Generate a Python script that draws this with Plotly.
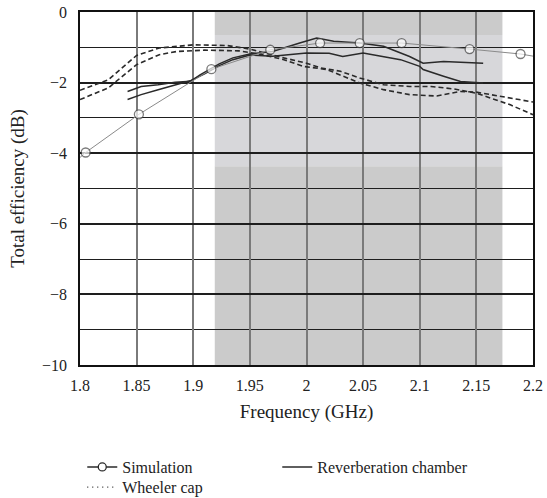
import plotly.graph_objects as go

# Simulation (open circles)
sim_f = [1.8, 1.805, 1.852, 1.916, 1.968, 2.012, 2.047, 2.084, 2.144, 2.189, 2.2]
sim_db = [-4.12, -3.98, -2.90, -1.62, -1.07, -0.88, -0.88, -0.88, -1.05, -1.19, -1.25]
sim_marker = [0, 1, 1, 1, 1, 1, 1, 1, 1, 1, 0]

# Reverberation chamber (two measured curves)
rc1_f = [1.842, 1.854, 1.869, 1.884, 1.898, 1.906, 1.923, 1.935, 1.95, 1.97, 1.994, 2.009,
         2.024, 2.047, 2.068, 2.083, 2.091, 2.103, 2.121, 2.156]
rc1_db = [-2.25, -2.11, -2.06, -1.99, -1.96, -1.78, -1.47, -1.30, -1.19, -1.12, -0.88, -0.74,
          -0.83, -0.88, -0.97, -1.16, -1.26, -1.45, -1.40, -1.45]
rc2_f = [1.842, 1.854, 1.869, 1.884, 1.898, 1.91, 1.923, 1.935, 1.95, 1.97, 1.99, 2.0,
         2.02, 2.032, 2.05, 2.068, 2.083, 2.1, 2.103, 2.121, 2.136, 2.156]
rc2_db = [-2.48, -2.34, -2.20, -2.06, -1.94, -1.75, -1.52, -1.35, -1.22, -1.25, -1.18, -1.16,
          -1.17, -1.26, -1.16, -1.26, -1.35, -1.54, -1.63, -1.82, -1.97, -2.01]

# Wheeler cap (two measured curves)
wc1_f = [1.8, 1.825, 1.85, 1.87, 1.9, 1.93, 1.95, 1.97, 1.98, 2.0, 2.012, 2.03, 2.047,
         2.068, 2.091, 2.11, 2.13, 2.15, 2.18, 2.2]
wc1_db = [-2.22, -1.92, -1.23, -1.02, -0.93, -0.95, -1.05, -1.22, -1.30, -1.45, -1.58, -1.68,
          -1.87, -2.06, -2.11, -2.11, -2.18, -2.30, -2.63, -2.91]
wc2_f = [1.8, 1.825, 1.85, 1.87, 1.885, 1.91, 1.94, 1.96, 1.98, 1.997, 2.018, 2.047, 2.068,
         2.091, 2.115, 2.136, 2.15, 2.18, 2.2]
wc2_db = [-2.48, -2.15, -1.49, -1.21, -1.12, -1.08, -1.10, -1.20, -1.35, -1.54, -1.63, -2.01,
          -2.20, -2.34, -2.38, -2.25, -2.27, -2.44, -2.55]

# Shaded band limits
band_f = [1.919, 2.173]
band_db = [0, -0.65, -4.37, -10]
band_colors = ["#cbcbcb", "#d7d7da", "#cbcbcb"]

x_ticks = [1.8, 1.85, 1.9, 1.95, 2.0, 2.05, 2.1, 2.15, 2.2]
y_ticks = [0, -2, -4, -6, -8, -10]

FONT = "Liberation Serif"
DARK = "#2a2a2a"

fig = go.Figure()

for f, d in [(wc1_f, wc1_db), (wc2_f, wc2_db)]:
    fig.add_trace(go.Scatter(x=f, y=d, mode="lines", showlegend=False,
                             line=dict(color=DARK, width=1.6, dash="5px,3px")))
for f, d in [(rc1_f, rc1_db), (rc2_f, rc2_db)]:
    fig.add_trace(go.Scatter(x=f, y=d, mode="lines", showlegend=False,
                             line=dict(color=DARK, width=1.5)))
fig.add_trace(go.Scatter(x=sim_f, y=sim_db, mode="lines+markers", showlegend=False,
                         line=dict(color="#8a8a8a", width=1),
                         marker=dict(symbol="circle", size=[9 * m for m in sim_marker],
                                     color="white", line=dict(color="#444", width=1.3))))

# legend entries
fig.add_trace(go.Scatter(x=[None], y=[None], mode="lines+markers", name="Simulation",
                         line=dict(color=DARK, width=1.5), legend="legend",
                         marker=dict(symbol="circle", size=8, color="white",
                                     line=dict(color=DARK, width=1.3))))
fig.add_trace(go.Scatter(x=[None], y=[None], mode="lines", name="Reverberation chamber",
                         line=dict(color=DARK, width=1.5), legend="legend"))
fig.add_trace(go.Scatter(x=[None], y=[None], mode="lines", name="Wheeler cap",
                         line=dict(color=DARK, width=1.2, dash="1px,4px"), legend="legend2"))

for i in range(3):
    fig.add_shape(type="rect", xref="x", yref="y", x0=band_f[0], x1=band_f[1],
                  y0=band_db[i], y1=band_db[i + 1], fillcolor=band_colors[i],
                  line=dict(width=0), layer="below")

leg_common = dict(orientation="h", x=0.005, xanchor="left", yanchor="middle",
                  entrywidth=150, font=dict(size=16), bgcolor="rgba(0,0,0,0)")

fig.update_layout(
    width=547, height=498,
    margin=dict(l=80, r=14, t=12, b=133, autoexpand=False),
    plot_bgcolor="white", paper_bgcolor="white",
    font=dict(family=FONT, size=16, color="#222"),
    showlegend=True,
    legend=dict(y=-0.289, **leg_common),
    legend2=dict(y=-0.346, **leg_common),
)
fig.update_xaxes(range=[1.8, 2.2], tickvals=x_ticks, showgrid=True, gridcolor="#7a7a7a",
                 gridwidth=1.5, showline=True, linecolor="#111", linewidth=1.5, mirror=True,
                 ticks="", zeroline=False, title=dict(text="Frequency (GHz)", standoff=12),
                 tickfont=dict(size=16), ticklabelstandoff=5)
fig.update_yaxes(range=[-10, 0], tickvals=y_ticks, showgrid=True, gridcolor="#1e1e1e",
                 gridwidth=1.5, showline=True, linecolor="#111", linewidth=1.5, mirror=True,
                 ticks="", zeroline=False, title=dict(text="Total efficiency (dB)", standoff=12),
                 tickfont=dict(size=16), ticklabelstandoff=8,
                 minor=dict(dtick=1, tick0=0, showgrid=True, gridcolor="#1e1e1e", gridwidth=1.3))

fig.write_html("out.html")
